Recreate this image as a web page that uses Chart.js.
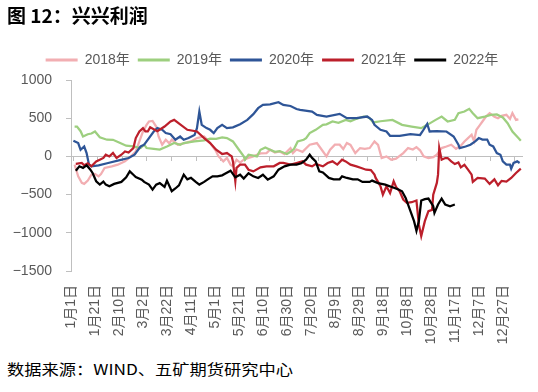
<!DOCTYPE html>
<html><head><meta charset="utf-8">
<script src="https://cdn.jsdelivr.net/npm/chart.js@4.4.1/dist/chart.umd.min.js"></script>
<style>
html,body{margin:0;padding:0;background:#fff;width:538px;height:392px;overflow:hidden;}
#wrap{position:absolute;left:0;top:0;width:538px;height:355px;}
#title{position:absolute;left:7px;top:5px;font-weight:bold;font-size:19px;line-height:1;font-family:"Noto Sans CJK SC",sans-serif;color:#000;white-space:nowrap;}
#src{position:absolute;left:7px;top:361px;font-size:15px;line-height:1;font-family:"Noto Sans CJK SC",sans-serif;color:#000;white-space:nowrap;transform:scaleX(1.15);transform-origin:0 0;}
</style></head>
<body>
<div id="wrap"><canvas id="c" width="538" height="355"></canvas></div>
<div id="title">图 12：兴兴利润</div>
<div id="src">数据来源：WIND、五矿期货研究中心</div>
<script>
// x labels (every 20 days from Jan 1)
const xLabels = ['1月1日','1月21日','2月10日','3月2日','3月22日','4月11日','5月1日','5月21日','6月10日','6月30日','7月20日','8月9日','8月29日','9月18日','10月8日','10月28日','11月17日','12月7日','12月27日'];
const seriesNames = ['2018年','2019年','2020年','2021年','2022年'];

// day of year (0 = 1月1日) and profit values
const d2018 = [3,6,9,11,14,17,20,23,25,28,34,39,45,50,54,57,60,63,65,68,71,73,76,79,82,84,89,94,100,105,111,115,118,121,123,127,130,133,135,138,141,144,148,152,158,163,166,170,174,178,183,185,188,193,199,205,208,213,216,220,224,227,230,233,237,241,245,249,253,256,259,263,267,271,277,281,285,288,291,294,298,302,305,309,313,317,321,325,328,331,334,336,338,341,343,346,349,353,356,359,363,366,368,371,373];
const v2018 = [-108,-261,-347,-360,-317,-239,-230,-261,-230,-152,-130,-108,-65,0,65,196,326,413,457,465,391,261,153,218,170,218,153,170,196,240,261,196,130,65,0,-65,-20,-108,-130,-43,-80,-43,-20,0,40,44,87,50,65,30,109,44,90,60,153,175,110,0,87,153,153,96,175,150,44,109,100,109,196,150,-21,0,-43,-30,44,109,90,122,80,0,-21,-10,22,109,130,153,100,140,196,240,283,200,348,413,457,522,566,520,500,530,544,490,566,478,485];

const d2019 = [3,5,8,10,14,17,20,24,30,35,41,46,52,58,61,63,69,74,80,86,91,94,103,111,116,121,126,130,135,140,144,145,148,152,155,158,162,166,170,174,180,183,186,189,194,196,199,204,210,213,218,223,229,233,238,244,246,249,252,258,268,276,284,292,297,304,309,314,320,323,328,332,335,339,345,350,355,360,364,368,373,375];
const v2019 = [391,391,330,261,290,300,326,250,218,217,175,140,130,109,153,110,100,90,130,175,153,175,196,210,231,230,248,240,196,87,0,-43,22,10,0,87,117,87,60,70,31,60,100,196,218,240,305,348,413,420,457,440,478,460,492,522,522,500,444,460,478,413,391,370,413,478,522,457,480,566,587,622,566,500,520,544,550,509,435,326,240,205];

const d2020 = [2,6,8,11,13,15,17,23,31,39,48,53,58,61,65,69,72,76,79,83,87,91,94,98,103,105,107,109,113,116,119,122,126,130,135,141,147,152,156,160,166,173,177,183,188,191,201,205,213,224,230,238,247,251,253,258,263,266,274,283,291,293,297,299,305,313,319,323,324,329,333,337,340,343,347,349,352,355,358,360,363,366,367,369,372,374];
const v2020 = [205,175,87,130,44,-108,-130,-117,-86,-55,-21,22,130,153,240,326,370,350,305,290,218,260,218,240,280,370,587,413,370,348,305,370,413,370,380,422,478,553,631,674,680,709,674,660,620,609,587,544,522,557,500,500,522,478,413,348,326,270,270,290,280,326,426,326,330,326,261,153,109,130,153,196,240,220,220,153,130,44,22,-65,-108,-108,-160,-86,-65,-86];

const d2021 = [4,9,11,14,17,21,24,27,29,32,35,38,42,45,48,52,54,57,60,62,64,66,72,78,83,86,91,97,105,111,116,121,126,130,134,135,137,138,141,145,148,152,158,163,169,174,177,183,188,193,196,201,204,210,214,218,222,226,229,233,238,242,246,250,253,254,256,258,260,263,266,269,271,274,277,280,284,288,290,292,295,298,301,302,305,306,307,309,312,314,317,320,323,325,328,331,334,335,339,345,349,353,356,359,363,367,371,375];
const v2021 = [-99,-86,-117,-90,-130,-65,-43,-20,22,0,44,-21,22,65,50,109,240,326,370,326,326,380,330,391,457,478,420,348,326,240,175,87,31,44,0,-65,-326,-150,-108,-108,-174,-196,-143,-130,-130,-86,-86,-108,-86,-65,-108,-130,-100,-130,-86,-65,-108,-43,-65,-108,-130,-152,-174,-180,-239,-282,-334,-391,-500,-391,-480,-326,-400,-456,-565,-608,-600,-578,-891,-1043,-848,-717,-700,-500,-347,-239,109,-43,-21,-21,-65,-100,-80,-143,-110,-174,-239,-334,-282,-290,-360,-300,-378,-320,-330,-282,-217,-160];

const d2022 = [4,7,10,13,16,18,21,24,27,29,32,36,42,46,49,52,54,59,61,65,68,71,74,78,80,84,87,90,94,97,100,104,107,111,114,118,122,126,128,133,137,141,144,148,152,156,160,164,169,173,178,183,188,192,196,199,201,204,207,210,215,219,224,226,230,235,239,243,249,251,256,262,268,273,276,279,283,286,288,290,292,295,298,302,303,306,309,312,316,320];
const v2022 = [-187,-130,-150,-117,-170,-217,-326,-369,-330,-369,-391,-360,-334,-274,-196,-240,-270,-304,-334,-369,-434,-369,-350,-400,-317,-456,-420,-380,-239,-300,-280,-334,-369,-334,-300,-261,-261,-248,-230,-187,-274,-240,-290,-220,-261,-282,-240,-304,-261,-174,-130,-108,-108,-90,-43,22,-20,-65,-196,-210,-282,-300,-300,-261,-282,-300,-300,-334,-334,-317,-350,-369,-404,-434,-456,-543,-717,-848,-975,-850,-578,-560,-552,-652,-739,-630,-552,-630,-652,-630];

const colors = ['#F2AEB2','#9DCF7F','#2E5597','#BC1F2B','#000000'];
const days = [d2018,d2019,d2020,d2021,d2022];
const vals = [v2018,v2019,v2020,v2021,v2022];

const FONT = '"Liberation Sans","Noto Sans CJK SC",sans-serif';
const AXIS_GREY = '#BFBFBF';
const TEXT_GREY = '#595959';

const datasets = seriesNames.map((name, i) => ({
  label: name,
  data: days[i].map((d, j) => ({x: d, y: vals[i][j]})),
  borderColor: colors[i],
  backgroundColor: colors[i],
  borderWidth: 2.25,
  pointRadius: 0,
  tension: 0,
  fill: false,
  order: 4 - i,
  xAxisID: 'x',
  yAxisID: 'y'
}));

// nudge the legend: centred on the page rather than the plot, and a bit higher
const legendShift = {
  id: 'legendShift',
  afterLayout(chart) {
    const lg = chart.legend;
    if (lg) { lg.left += 11; lg.right += 11; lg.top -= 3; lg.bottom -= 3; }
  }
};

new Chart(document.getElementById('c'), {
  type: 'line',
  data: { datasets },
  plugins: [legendShift],
  options: {
    responsive: false,
    animation: false,
    devicePixelRatio: 1,
    layout: { padding: { top: 48, right: 16, left: 0, bottom: 0 } },
    plugins: {
      tooltip: { enabled: false },
      legend: {
        position: 'top',
        labels: {
          boxWidth: 32, boxHeight: 3, padding: 8,
          color: TEXT_GREY,
          font: { size: 14, family: FONT },
          sort: (a, b) => a.datasetIndex - b.datasetIndex,
          generateLabels: (chart) => Chart.defaults.plugins.legend.labels.generateLabels(chart)
            .map(l => Object.assign(l, { lineWidth: 0, fillStyle: colors[l.datasetIndex] }))
        }
      }
    },
    scales: {
      x: {
        type: 'linear', position: 'bottom', min: 0, max: 376,
        afterBuildTicks: s => { s.ticks = xLabels.map((_, i) => ({ value: i * 20 })); },
        afterFit: s => { s.height = 84; },
        grid: { display: false, drawTicks: false },
        border: { display: false },
        ticks: {
          autoSkip: false, minRotation: 90, maxRotation: 90, padding: 14,
          color: TEXT_GREY, font: { size: 14, family: FONT },
          callback: (v, i) => xLabels[i]
        }
      },
      x0: {
        type: 'linear', axis: 'x', position: { y: 0 }, min: 0, max: 376,
        afterBuildTicks: s => { s.ticks = xLabels.map((_, i) => ({ value: 2 + i * 20.45 })); },
        grid: { drawOnChartArea: false, drawTicks: true, tickLength: 4, color: AXIS_GREY },
        border: { display: true, color: AXIS_GREY, width: 1 },
        ticks: { display: false }
      },
      y: {
        type: 'linear', position: 'left', min: -1500, max: 1000,
        afterFit: s => { s.width = 71; },
        grid: { drawOnChartArea: false, drawTicks: true, tickLength: 5, color: AXIS_GREY },
        border: { color: AXIS_GREY },
        ticks: {
          stepSize: 500, padding: 14,
          color: TEXT_GREY, font: { size: 14, family: FONT },
          callback: v => (v < 0 ? '\u2212' + Math.abs(v) : String(v))
        }
      }
    }
  }
});
</script>
</body></html>
